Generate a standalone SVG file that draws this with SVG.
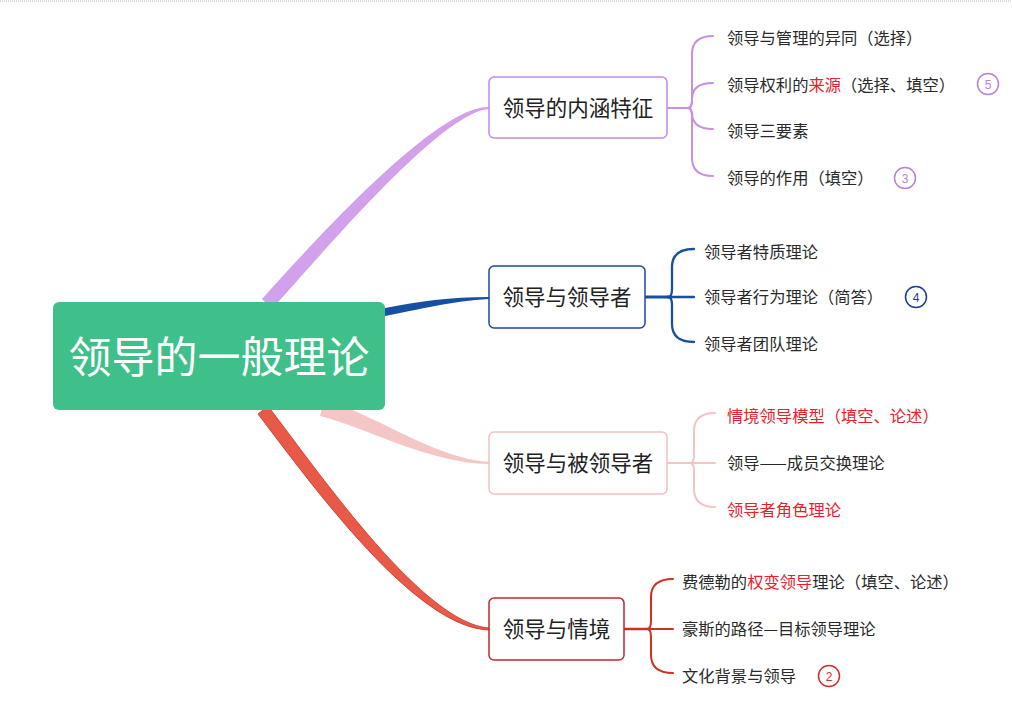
<svg xmlns="http://www.w3.org/2000/svg" width="1012" height="722" viewBox="0 0 1012 722">
<style>
text{font-family:"Noto Sans CJK SC","Noto Sans",sans-serif;}
.leaf{font-size:16.3px;fill:#2a2a2a;}
.red{fill:#e8222a;}
.topic{font-size:21.5px;fill:#222;text-anchor:middle;}
.box{fill:#fff;stroke-width:1.5;}
.sub{fill:none;stroke-linecap:round;stroke-linejoin:round;}
.num{font-family:"Liberation Sans",Arial,sans-serif;font-size:12px;text-anchor:middle;}
.ring{fill:none;stroke-width:1.5;}
</style>
<rect width="1012" height="722" fill="#ffffff"/>
<line x1="0" y1="1" x2="1012" y2="1" stroke="#cfcfcf" stroke-width="1.5" stroke-dasharray="1 1"/>

<g id="connectors">
  <!-- main tapered branches -->
  <path d="M262,299 C317,238 438,105 489,107 L489,109 C442,112 327,248 272,309 Z" fill="#d3a0ec"/>
  <path d="M380,309 C420,301 450,297 489,297 L489,299 C452,301 422,309 380,317 Z" fill="#1550a3"/>
  <path d="M324,400 C372,412 432,458 489,462 L489,464 C428,463 368,428 320,416 Z" fill="#f5c6c6"/>
  <path d="M268,406 C325,481 424,623 489,628 L489,630 C416,628 315,489 258,414 Z" fill="#e85a47" stroke="#c8322c" stroke-width="0.8"/>

  <!-- purple sub-branches -->
  <g class="sub" stroke="#c790e4" stroke-width="2">
    <path d="M667,108 H688"/>
    <path d="M688,108 Q692,108 692,100 V54 Q692,36 713,36"/>
    <path d="M688,108 Q692,108 692,100 V99 Q692,83 713,83"/>
    <path d="M688,108 Q692,108 692,116 V113 Q692,129 713,129"/>
    <path d="M688,108 Q692,108 692,116 V158 Q692,176 713,176"/>
  </g>
  <!-- blue sub-branches -->
  <g class="sub" stroke="#1a4fa0" stroke-width="2.3">
    <path d="M645,297 H668" stroke-width="3"/>
    <path d="M668,297 Q672,297 672,289 V267 Q672,249 694,249"/>
    <path d="M668,297 H694"/>
    <path d="M668,297 Q672,297 672,305 V324 Q672,342 694,342"/>
  </g>
  <!-- pink sub-branches -->
  <g class="sub" stroke="#f2c4c4" stroke-width="2">
    <path d="M667,463 H690"/>
    <path d="M690,463 Q694,463 694,455 V431 Q694,413 715,413"/>
    <path d="M690,463 H715"/>
    <path d="M690,463 Q694,463 694,471 V489 Q694,507 715,507"/>
  </g>
  <!-- red sub-branches -->
  <g class="sub" stroke="#cc3122" stroke-width="2">
    <path d="M624,629 H647" stroke-width="2.6"/>
    <path d="M647,629 Q651,629 651,621 V597 Q651,579 673,579"/>
    <path d="M647,629 H673"/>
    <path d="M647,629 Q651,629 651,637 V655 Q651,673 673,673"/>
  </g>
</g>

<g id="root">
  <rect x="53" y="302" width="332" height="108" rx="6" fill="#3fbf8a"/>
  <text x="219" y="373" font-size="43" fill="#ffffff" text-anchor="middle">领导的一般理论</text>
</g>

<g id="topic-1">
  <rect class="box" x="489" y="77" width="178" height="61" rx="5" stroke="#c08be0"/>
  <text class="topic" x="578" y="115.5">领导的内涵特征</text>
</g>
<g id="topic-2">
  <rect class="box" x="489" y="266" width="156" height="62" rx="5" stroke="#1a4a9a"/>
  <text class="topic" x="567" y="304.5">领导与领导者</text>
</g>
<g id="topic-3">
  <rect class="box" x="489" y="432" width="178" height="62" rx="5" stroke="#efc2c2"/>
  <text class="topic" x="578" y="470.5">领导与被领导者</text>
</g>
<g id="topic-4">
  <rect class="box" x="489" y="598" width="135" height="62" rx="5" stroke="#c4262c"/>
  <text class="topic" x="556.5" y="636.5">领导与情境</text>
</g>

<g id="leaf-1-1"><text class="leaf" x="727" y="43.5">领导与管理的异同（选择）</text></g>
<g id="leaf-1-2">
  <text class="leaf" x="727" y="90.5">领导权利的<tspan class="red">来源</tspan>（选择、填空）</text>
  <circle class="ring" cx="988" cy="84" r="10.5" stroke="#b97fdd"/>
  <text class="num" x="988" y="88.5" fill="#b97fdd">5</text>
</g>
<g id="leaf-1-3"><text class="leaf" x="727" y="136.5">领导三要素</text></g>
<g id="leaf-1-4">
  <text class="leaf" x="727" y="183.5">领导的作用（填空）</text>
  <circle class="ring" cx="905" cy="178" r="10.5" stroke="#b97fdd"/>
  <text class="num" x="905" y="182.5" fill="#b97fdd">3</text>
</g>

<g id="leaf-2-1"><text class="leaf" x="704" y="257.5">领导者特质理论</text></g>
<g id="leaf-2-2">
  <text class="leaf" x="704" y="302.5">领导者行为理论（简答）</text>
  <circle class="ring" cx="916" cy="297" r="10.5" stroke="#1a3f8f"/>
  <text class="num" x="916" y="301.5" fill="#1a3f8f">4</text>
</g>
<g id="leaf-2-3"><text class="leaf" x="704" y="349.5">领导者团队理论</text></g>

<g id="leaf-3-1"><text class="leaf red" x="727" y="421.5">情境领导模型（填空、论述）</text></g>
<g id="leaf-3-2"><text class="leaf" x="727" y="468.5">领导——成员交换理论</text></g>
<g id="leaf-3-3"><text class="leaf red" x="727" y="515.5">领导者角色理论</text></g>

<g id="leaf-4-1"><text class="leaf" x="682" y="587.5">费德勒的<tspan class="red">权变领导</tspan>理论（填空、论述）</text></g>
<g id="leaf-4-2"><text class="leaf" x="682" y="634.5">豪斯的路径—目标领导理论</text></g>
<g id="leaf-4-3">
  <text class="leaf" x="682" y="681.5">文化背景与领导</text>
  <circle class="ring" cx="829" cy="676" r="10.5" stroke="#d0302a"/>
  <text class="num" x="829" y="680.5" fill="#d0302a">2</text>
</g>
</svg>
